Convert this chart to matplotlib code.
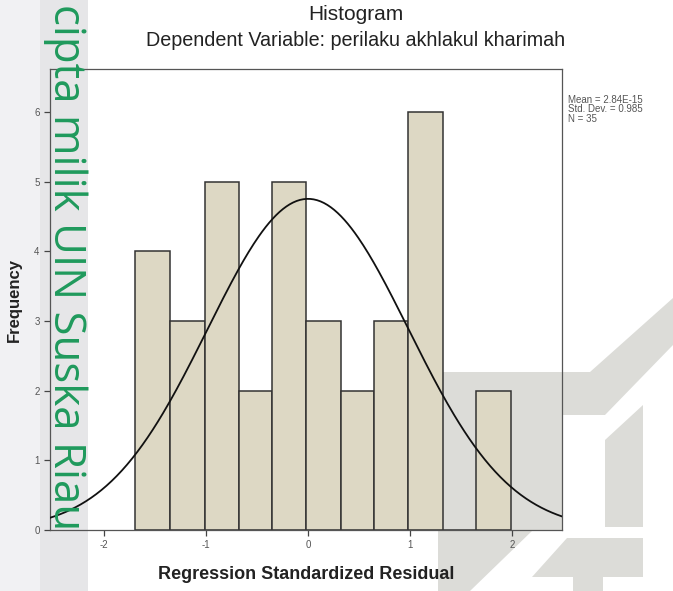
import numpy as np
import matplotlib
matplotlib.use("Agg")
from matplotlib import pyplot as plt
from matplotlib.patches import Polygon, Rectangle

# histogram
bin_edges = [-1.70, -1.35, -1.01, -0.68, -0.35, -0.02, 0.32, 0.65, 0.98, 1.32, 1.65, 1.99]
counts = [4, 3, 5, 2, 5, 3, 2, 3, 6, 0, 2]
x_ticks = [-2, -1, 0, 1, 2]
y_ticks = [0, 1, 2, 3, 4, 5, 6]

# fitted normal curve parameters shown in the chart
mean = 2.84e-15
std_dev = 0.985
n_obs = 35
stats_lines = ['Mean = 2.84E-15', 'Std. Dev. = 0.985', 'N = 35']

W, H = 673, 591
plt.rcParams['font.family'] = ['Liberation Sans', 'DejaVu Sans']
plt.rcParams['axes.unicode_minus'] = False

fig = plt.figure(figsize=(W / 100, H / 100), dpi=100)
fig.patch.set_facecolor('white')


def fx(px):
    return px / W


def fy(py):
    return 1 - py / H


# left grey strips behind everything (scan background)
fig.patches.append(Rectangle((0, 0), fx(40), 1, transform=fig.transFigure,
                             facecolor='#f1f1f3', edgecolor='none', zorder=-5))
fig.patches.append(Rectangle((fx(40), 0), fx(48), 1, transform=fig.transFigure,
                             facecolor='#e6e6e8', edgecolor='none', zorder=-5))

# watermark logo, rough shapes
logo = [
    [(438, 372), (590, 372), (673, 298), (673, 345), (605, 415), (563, 415),
     (563, 530), (533, 530), (470, 591), (438, 591)],
    [(605, 440), (643, 405), (643, 527), (605, 527)],
    [(567, 538), (643, 538), (643, 577), (603, 577), (603, 591), (573, 591),
     (573, 577), (532, 577)],
]
for pts in logo:
    fig.patches.append(Polygon([(fx(a), fy(b)) for a, b in pts], closed=True,
                               transform=fig.transFigure, facecolor='#dcdcd8',
                               edgecolor='none', zorder=-4))

ax = fig.add_axes([fx(50), fy(530), fx(562) - fx(50), fy(69) - fy(530)])
ax.set_facecolor('none')

widths = np.diff(bin_edges)
ax.bar(bin_edges[:-1], counts, width=widths, align='edge', color='#ddd8c4',
       edgecolor='#333333', linewidth=1.1, zorder=2)

bw = widths.mean()
xs = np.linspace(-2.53, 2.49, 300)
ys = n_obs * bw * np.exp(-0.5 * ((xs - mean) / std_dev) ** 2) / (std_dev * np.sqrt(2 * np.pi))
ax.plot(xs, ys, color='#111111', linewidth=1.3, zorder=3)

ax.set_xlim(-2.53, 2.49)
ax.set_ylim(0, 6.62)
ax.set_xticks(x_ticks)
ax.set_yticks(y_ticks)
ax.tick_params(length=4, width=0.9, colors='#444444', labelsize=7, labelcolor='#555555')
for sp in ax.spines.values():
    sp.set_color('#555555')
    sp.set_linewidth(0.9)

ax.set_xlabel('Regression Standardized Residual', fontsize=13, fontweight='bold',
              color='#222222', labelpad=11)
fig.text(fx(14), fy(300), 'Frequency', rotation=90, ha='center', va='center',
         fontsize=12, fontweight='bold', color='#222222')

fig.text(fx(356), fy(15), 'Histogram', ha='center', va='center', fontsize=15,
         color='#222222')
fig.text(fx(356), fy(40), 'Dependent Variable: perilaku akhlakul kharimah', ha='center',
         va='center', fontsize=14.2, color='#222222')
for i, line in enumerate(stats_lines):
    fig.text(fx(568), fy(100 + 9.5 * i), line, ha='left', va='center', fontsize=7,
             color='#555555')

fig.text(fx(65), fy(4), 'cipta milik UIN Suska Riau', rotation=-90, ha='center',
         va='top', fontsize=31.5, color='#1f9a5c', family=['Open Sans', 'DejaVu Sans'],
         zorder=10)

fig.savefig('out.png', dpi=100)
